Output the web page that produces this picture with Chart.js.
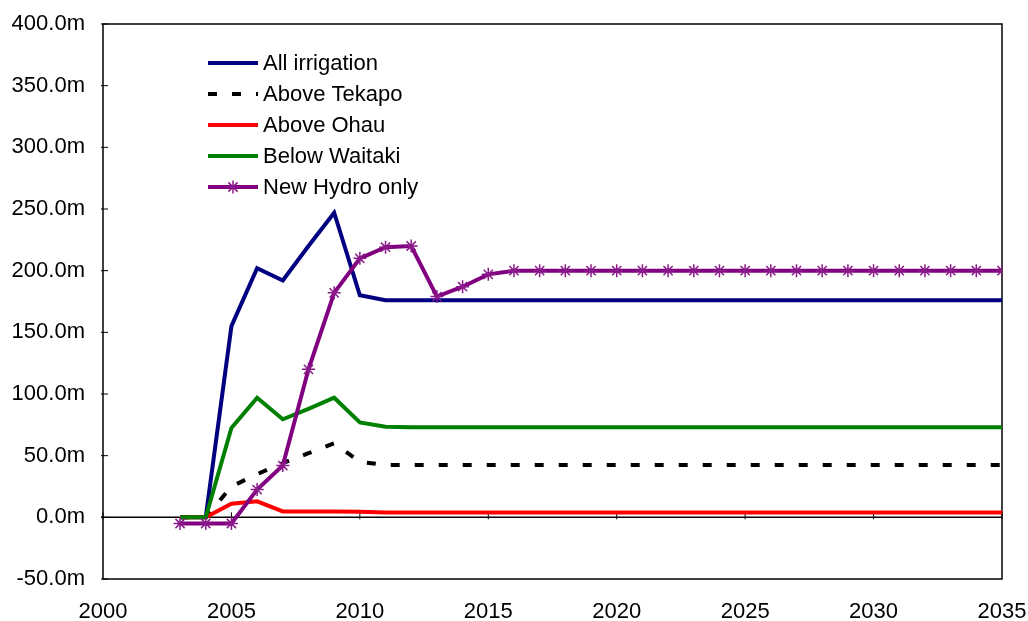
<!DOCTYPE html>
<html>
<head>
<meta charset="utf-8">
<script src="https://cdn.jsdelivr.net/npm/chart.js@4/dist/chart.umd.min.js"></script>
<style>
  html, body { margin: 0; padding: 0; background: #ffffff; }
  #wrap { width: 1028px; height: 621px; }
</style>
</head>
<body>
<div id="wrap"><canvas id="c" width="1028" height="621"></canvas></div>
<script>
// ---- data ----
const years = [2003, 2004, 2005, 2006, 2007, 2008, 2009, 2010, 2011, 2012, 2013, 2014, 2015, 2016, 2017, 2018, 2019,
               2020, 2021, 2022, 2023, 2024, 2025, 2026, 2027, 2028, 2029, 2030, 2031, 2032, 2033, 2034, 2035];

const allIrrigation = [0, 0, 155, 202, 192, 220, 247, 180, 176, 176, 176, 176, 176, 176, 176, 176, 176,
                       176, 176, 176, 176, 176, 176, 176, 176, 176, 176, 176, 176, 176, 176, 176, 176];

const aboveTekapo = [0, 0, 25, 35, 44, 52, 60, 45, 42.5, 42.5, 42.5, 42.5, 42.5, 42.5, 42.5, 42.5, 42.5,
                     42.5, 42.5, 42.5, 42.5, 42.5, 42.5, 42.5, 42.5, 42.5, 42.5, 42.5, 42.5, 42.5, 42.5, 42.5, 42.5];

const aboveOhau = [0, 0, 11, 13, 4.8, 4.8, 4.8, 4.6, 4, 4, 4, 4, 4, 4, 4, 4, 4,
                   4, 4, 4, 4, 4, 4, 4, 4, 4, 4, 4, 4, 4, 4, 4, 4];

const belowWaitaki = [0, 0, 72.5, 97, 79.5, 88, 97, 77, 73.5, 73, 73, 73, 73, 73, 73, 73, 73,
                      73, 73, 73, 73, 73, 73, 73, 73, 73, 73, 73, 73, 73, 73, 73, 73];

const newHydroOnly = [-5, -5, -5, 22.5, 42, 120, 182, 210, 219, 220, 179, 187, 197, 200, 200, 200, 200,
                      200, 200, 200, 200, 200, 200, 200, 200, 200, 200, 200, 200, 200, 200, 200, 200];

const seriesLabels = ['All irrigation', 'Above Tekapo', 'Above Ohau', 'Below Waitaki', 'New Hydro only'];

const yTickValues = [-50, 0, 50, 100, 150, 200, 250, 300, 350, 400];
const xTickValues = [2000, 2005, 2010, 2015, 2020, 2025, 2030, 2035];

// ---- helpers ----
const toPoints = (vals) => years.map((y, i) => ({ x: y, y: vals[i] }));
const FONT = "'Liberation Sans', Arial, sans-serif";
const FONT_SIZE = 22;

// plot frame, zero axis line with tick marks, y tick marks
const framePlugin = {
  id: 'frame',
  beforeDatasetsDraw(chart) {
    const { ctx, chartArea: a, scales } = chart;
    ctx.save();
    ctx.strokeStyle = '#000000';
    ctx.lineWidth = 1.5;
    ctx.setLineDash([]);
    ctx.strokeRect(a.left, a.top, a.right - a.left, a.bottom - a.top);
    const y0 = scales.y.getPixelForValue(0);
    ctx.beginPath();
    ctx.moveTo(a.left - 2, y0);
    ctx.lineTo(a.right, y0);
    ctx.stroke();
    ctx.lineWidth = 1;
    xTickValues.forEach(v => {
      const x = scales.x.getPixelForValue(v);
      ctx.beginPath();
      ctx.moveTo(x, y0 - 5);
      ctx.lineTo(x, y0 + 2);
      ctx.stroke();
    });
    yTickValues.forEach(v => {
      const y = scales.y.getPixelForValue(v);
      ctx.beginPath();
      ctx.moveTo(a.left - 2, y);
      ctx.lineTo(a.left + 5, y);
      ctx.stroke();
    });
    ctx.restore();
  }
};

// legend drawn inside the plot area from dataset styles
const insideLegend = {
  id: 'insideLegend',
  afterDatasetsDraw(chart) {
    const { ctx, chartArea: a } = chart;
    ctx.save();
    chart.data.datasets.forEach((ds, i) => {
      const y = a.top + 39 + i * 31;
      const x0 = a.left + 105;
      const x1 = x0 + 50;
      ctx.strokeStyle = ds.borderColor;
      ctx.lineWidth = ds.borderWidth;
      ctx.lineCap = 'butt';
      ctx.setLineDash(ds.borderDash || []);
      ctx.beginPath();
      ctx.moveTo(x0, y);
      ctx.lineTo(x1, y);
      ctx.stroke();
      ctx.setLineDash([]);
      if (ds.pointRadius > 0) {
        ctx.strokeStyle = ds.pointBorderColor;
        ctx.fillStyle = ds.pointBorderColor;
        ctx.lineWidth = ds.pointBorderWidth;
        Chart.helpers.drawPoint(ctx, { pointStyle: ds.pointStyle, radius: ds.pointRadius, borderWidth: ds.pointBorderWidth }, (x0 + x1) / 2, y);
      }
      ctx.fillStyle = '#000000';
      ctx.font = FONT_SIZE + 'px ' + FONT;
      ctx.textAlign = 'left';
      ctx.textBaseline = 'middle';
      ctx.fillText(ds.label, x1 + 5, y + 1);
    });
    ctx.restore();
  }
};

const lineBase = { fill: false, tension: 0, borderWidth: 4, pointRadius: 0, pointHoverRadius: 0 };

new Chart(document.getElementById('c'), {
  type: 'line',
  data: {
    datasets: [
      Object.assign({}, lineBase, { label: seriesLabels[0], data: toPoints(allIrrigation), borderColor: '#000080', order: 4 }),
      Object.assign({}, lineBase, { label: seriesLabels[1], data: toPoints(aboveTekapo), borderColor: '#000000', borderDash: [9, 15], order: 3 }),
      Object.assign({}, lineBase, { label: seriesLabels[2], data: toPoints(aboveOhau), borderColor: '#ff0000', order: 2 }),
      Object.assign({}, lineBase, { label: seriesLabels[3], data: toPoints(belowWaitaki), borderColor: '#008000', order: 1 }),
      Object.assign({}, lineBase, { label: seriesLabels[4], data: toPoints(newHydroOnly), borderColor: '#800080', order: 0,
        pointStyle: 'star', pointRadius: 6.5, pointBorderWidth: 1.5, pointBorderColor: '#8a1a8a', pointBackgroundColor: '#8a1a8a' })
    ]
  },
  options: {
    responsive: false,
    devicePixelRatio: 1,
    animation: false,
    events: [],
    layout: { padding: { top: 24, right: 26, left: 0, bottom: 0 } },
    plugins: { legend: { display: false }, tooltip: { enabled: false }, title: { display: false } },
    scales: {
      x: {
        type: 'linear',
        min: 2000,
        max: 2035,
        afterFit: (s) => { s.height = 42; s.paddingLeft = 0; s.paddingRight = 0; },
        afterBuildTicks: (s) => { s.ticks = xTickValues.map(v => ({ value: v })); },
        ticks: {
          color: '#000000',
          font: { family: FONT, size: FONT_SIZE },
          padding: 20,
          maxRotation: 0,
          autoSkip: false,
          callback: (v) => String(v)
        },
        grid: { display: false, drawTicks: false },
        border: { display: false }
      },
      y: {
        type: 'linear',
        min: -50,
        max: 400,
        afterFit: (s) => { s.width = 103; s.paddingTop = 0; s.paddingBottom = 0; },
        afterBuildTicks: (s) => { s.ticks = yTickValues.map(v => ({ value: v })); },
        ticks: {
          color: '#000000',
          font: { family: FONT, size: FONT_SIZE },
          padding: 18,
          autoSkip: false,
          callback: (v) => Number(v).toFixed(1) + 'm'
        },
        grid: { display: false, drawTicks: false },
        border: { display: false }
      }
    }
  },
  plugins: [framePlugin, insideLegend]
});
</script>
</body>
</html>
